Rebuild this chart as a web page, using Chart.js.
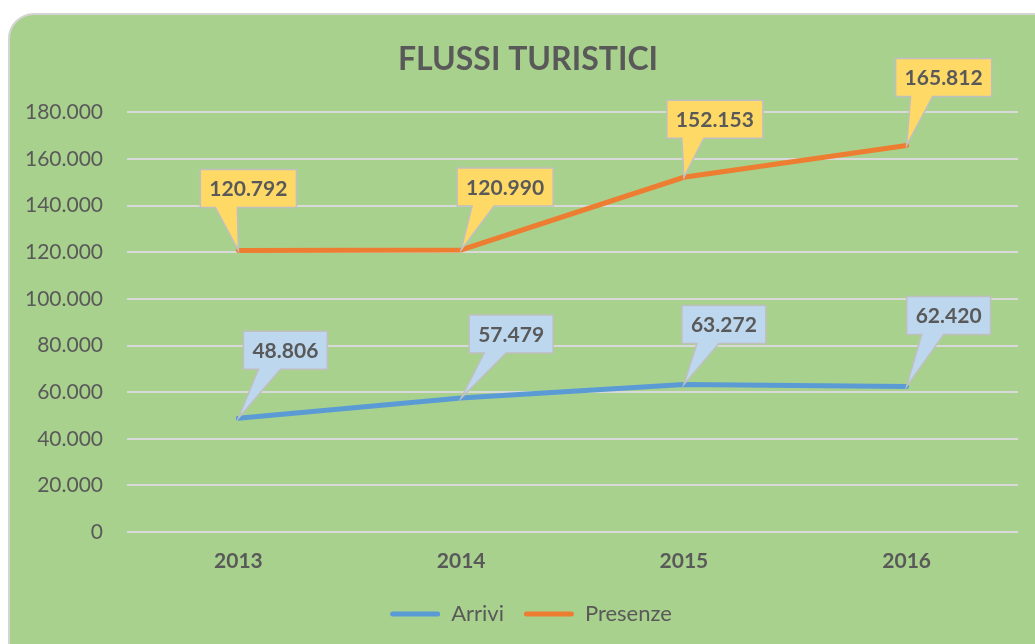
<!DOCTYPE html>
<html>
<head>
<meta charset="utf-8">
<script src="https://cdn.jsdelivr.net/npm/chart.js@4.4.1/dist/chart.umd.min.js"></script>
<style>
  html, body { margin: 0; padding: 0; background: #ffffff; overflow: hidden; }
  #sfondo {
    position: absolute; left: 8px; top: 13px; width: 1060px; height: 680px;
    background: #A9D18E; border: 2px solid #D4D4D4; border-radius: 26px;
  }
  #wrap { position: absolute; left: 0; top: 0; width: 1035px; height: 644px; }
</style>
</head>
<body>
<div id="sfondo"></div>
<div id="wrap"><canvas id="flussiChart" width="1035" height="644"></canvas></div>
<script>
// Dati
const anni = ['2013', '2014', '2015', '2016'];
const arrivi = [48806, 57479, 63272, 62420];
const presenze = [120792, 120990, 152153, 165812];
const tickMax = 180000;
const tickStep = 20000;

const FONT = 'Lato, "Open Sans", sans-serif';
const GRIGIO = '#595959';

// formato italiano: 180000 -> 180.000
function formatta(v) {
    return String(v).replace(/\B(?=(\d{3})+(?!\d))/g, '.');
}

// etichette a fumetto (callout) come in Excel
const fumetti = {
    id: 'fumetti',
    afterDatasetsDraw(chart, args, opts) {
        const c = chart.ctx;
        c.save();
        c.font = 'bold 21px ' + FONT;
        c.textAlign = 'center';
        c.textBaseline = 'middle';
        chart.data.datasets.forEach((ds, i) => {
            const meta = chart.getDatasetMeta(i);
            const spost = opts.spostamenti[i];
            meta.data.forEach((pt, j) => {
                const testo = formatta(ds.data[j]);
                const w = c.measureText(testo).width + 18;
                const h = 38;
                const cx = pt.x + spost[j][0];
                const B = pt.y + spost[j][1];
                const T = B - h;
                const L = cx - w / 2;
                const R = cx + w / 2;
                const a = 15, bw = 22;
                c.beginPath();
                c.moveTo(L, T);
                c.lineTo(R, T);
                c.lineTo(R, B);
                c.lineTo(L + a + bw, B);
                c.lineTo(pt.x, pt.y);
                c.lineTo(L + a, B);
                c.lineTo(L, B);
                c.closePath();
                c.fillStyle = opts.riempimenti[i];
                c.fill();
                c.lineWidth = 1.5;
                c.strokeStyle = '#BFBFBF';
                c.stroke();
                c.fillStyle = GRIGIO;
                c.fillText(testo, cx, T + h / 2 + 1);
            });
        });
        c.restore();
    }
};

// sposta titolo e legenda un po' a destra, come nell'originale
const sposta = {
    id: 'sposta',
    afterLayout(chart) {
        if (chart.legend) {
            chart.legend.left += 22;
            chart.legend.right += 22;
        }
        if (chart.titleBlock) {
            chart.titleBlock.left += 19;
            chart.titleBlock.right += 19;
        }
    }
};

new Chart(document.getElementById('flussiChart'), {
    type: 'line',
    data: {
        labels: anni,
        datasets: [
            {
                label: 'Arrivi',
                data: arrivi,
                borderColor: '#5B9BD5',
                backgroundColor: '#5B9BD5',
                borderWidth: 5,
                pointRadius: 0,
                tension: 0,
                borderCapStyle: 'round'
            },
            {
                label: 'Presenze',
                data: presenze,
                borderColor: '#ED7D31',
                backgroundColor: '#ED7D31',
                borderWidth: 5,
                pointRadius: 0,
                tension: 0,
                borderCapStyle: 'round'
            }
        ]
    },
    options: {
        responsive: false,
        animation: false,
        layout: { padding: { left: 0, right: 17, top: 0, bottom: 9 } },
        scales: {
            x: {
                offset: true,
                grid: { display: false, drawTicks: false },
                border: { display: false },
                ticks: { color: GRIGIO, font: { family: FONT, size: 21, weight: 'bold' }, padding: 17 },
                afterFit(scale) { scale.height = 51; }
            },
            y: {
                min: 0,
                max: tickMax,
                grid: { color: '#D9D9D9', lineWidth: 2, drawTicks: false },
                border: { display: false },
                ticks: {
                    stepSize: tickStep,
                    color: GRIGIO,
                    font: { family: FONT, size: 21 },
                    padding: 24,
                    callback: v => formatta(v)
                },
                afterFit(scale) { scale.width = 127; }
            }
        },
        plugins: {
            title: {
                display: true,
                text: 'FLUSSI TURISTICI',
                color: GRIGIO,
                font: { family: FONT, size: 32, weight: 'bold' },
                padding: { top: 40, bottom: 34 }
            },
            legend: {
                position: 'bottom',
                labels: {
                    color: GRIGIO,
                    font: { family: FONT, size: 22 },
                    boxWidth: 50,
                    boxHeight: 5,
                    padding: 20,
                    generateLabels(chart) {
                        return chart.data.datasets.map((ds, i) => ({
                            text: ds.label,
                            fillStyle: ds.borderColor,
                            strokeStyle: ds.borderColor,
                            lineWidth: 0,
                            borderRadius: 2.5,
                            fontColor: GRIGIO,
                            datasetIndex: i
                        }));
                    }
                }
            },
            tooltip: { enabled: false },
            fumetti: {
                riempimenti: ['#BDD7EE', '#FFD966'],
                spostamenti: [
                    [[47, -49], [50, -45], [40, -41], [42, -52]],
                    [[10, -43], [44, -44], [31, -39], [37, -49]]
                ]
            }
        }
    },
    plugins: [fumetti, sposta]
});
</script>
</body>
</html>
